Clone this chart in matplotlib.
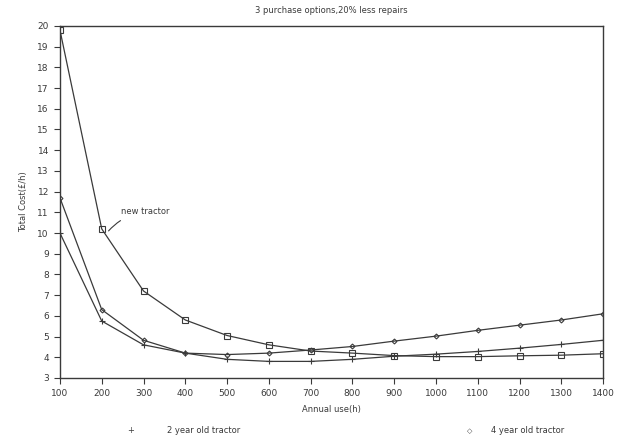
import matplotlib.pyplot as plt
import numpy as np

# annual use (h)
hours = [100, 200, 300, 400, 500, 600, 700, 800, 900, 1000, 1100, 1200, 1300, 1400]

# total cost (pounds per hour)
new_tractor = [19.8, 10.2, 7.2, 5.8, 5.05, 4.6, 4.3, 4.2, 4.08, 4.03, 4.03, 4.07, 4.1, 4.17]
two_year_old = [10.0, 5.75, 4.6, 4.2, 3.9, 3.8, 3.8, 3.9, 4.05, 4.15, 4.28, 4.44, 4.62, 4.82]
four_year_old = [11.7, 6.3, 4.82, 4.2, 4.13, 4.2, 4.35, 4.52, 4.78, 5.02, 5.3, 5.55, 5.8, 6.1]

ink = '#3a3a3a'

fig = plt.figure(figsize=(6.18, 4.4), dpi=100)
ax = fig.add_axes([0.097, 0.141, 0.879, 0.8])

ax.plot(hours, new_tractor, color=ink, lw=0.9, marker='s', ms=5,
        mfc='none', mec=ink, mew=0.8)
ax.plot(hours, two_year_old, color=ink, lw=0.9, marker='+', ms=4, mew=0.8)
ax.plot(hours, four_year_old, color=ink, lw=0.9, marker='D', ms=2.5,
        mfc='none', mec=ink, mew=0.8)

ax.set_xlim(100, 1400)
ax.set_ylim(3, 20)
ax.set_xticks(hours)
ax.set_yticks(np.arange(3, 21, 1))
ax.tick_params(labelsize=6.5, colors=ink, length=4, width=0.8,
               direction='out', pad=4)
for s in ax.spines.values():
    s.set_color(ink)
    s.set_linewidth(1.0)

ax.set_title('3 purchase options,20% less repairs', fontsize=6, color=ink, pad=9)
ax.set_xlabel('Annual use(h)', fontsize=6, color=ink, labelpad=5)
ax.set_ylabel('Total Cost(£/h)', fontsize=6, color=ink, labelpad=7)

ax.annotate('new tractor', xy=(hours[1] + 12, new_tractor[1] - 0.2),
            xytext=(246, 10.9), fontsize=6, color=ink,
            arrowprops=dict(arrowstyle='-', color=ink, lw=0.8,
                            connectionstyle='arc3,rad=0.2'))

fig.text(0.205, 0.015, '+', fontsize=6, color=ink)
fig.text(0.27, 0.015, '2 year old tractor', fontsize=6, color=ink)
fig.text(0.755, 0.015, '\u25c7', fontsize=5, color=ink)
fig.text(0.795, 0.015, '4 year old tractor', fontsize=6, color=ink)

fig.savefig('out.png', dpi=100, facecolor='white')
